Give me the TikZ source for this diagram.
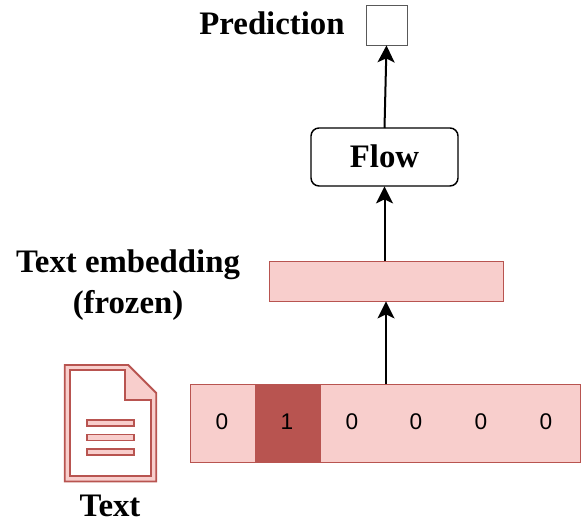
\documentclass[tikz,border=0pt]{standalone}
\usepackage{fontspec}
\setmainfont{Liberation Serif}
\newfontfamily\digitfont{Liberation Sans}
\usetikzlibrary{arrows.meta}
\definecolor{pinkfill}{HTML}{F8CECC}
\definecolor{redline}{HTML}{B85450}
\tikzset{
  x=0.75pt,y=-0.75pt,
  lbl/.style={font=\fontsize{24.6}{28}\selectfont\bfseries,inner sep=0pt,text=black},
  pinkbox/.style={draw=redline,fill=pinkfill,line width=0.6pt,inner sep=0pt,outer sep=0pt},
  digit/.style={font=\digitfont\fontsize{17}{19}\selectfont,inner sep=0pt,text=black},
  arrowline/.style={draw=black,line width=1.5pt,-{Stealth[length=12.75pt,width=12.75pt,inset=3pt]},shorten >=0.3pt},
  iconline/.style={draw=redline,line width=1.4pt,fill=pinkfill,line join=miter},
}
\begin{document}
\begin{tikzpicture}
\useasboundingbox (0,0) rectangle (586,523);
% boxes
\node[draw=black!65,fill=white,line width=0.6pt,minimum width=30.6pt,minimum height=30pt,inner sep=0pt,outer sep=0pt] (pred) at (386.5,25) {};
\node[draw=black,fill=white,rounded corners=6pt,line width=1.1pt,minimum width=110.25pt,minimum height=43.5pt,inner sep=0pt,outer sep=0pt,lbl] (flow) at (384.5,157) {\raisebox{1pt}{Flow}};
\node[pinkbox,minimum width=175.5pt,minimum height=30pt] (emb) at (386,281) {};
\node[pinkbox,minimum width=292.5pt,minimum height=58.5pt] (vec) at (385.25,423) {};
\node[fill=redline,inner sep=0pt,outer sep=0pt,minimum width=49.5pt,minimum height=58pt] (hot) at (288,423) {};
% digits
\node[digit] (d0) at (222,422) {0};
\node[digit] (d1) at (287,422) {1};
\node[digit] (d2) at (352,422) {0};
\node[digit] (d3) at (416,422) {0};
\node[digit] (d4) at (481,422) {0};
\node[digit] (d5) at (546,422) {0};
% labels
\node[lbl] (lp) at (272,23.5) {Prediction};
\node[lbl] (le) at (128,265) {Text embedding};
\node[lbl] (lf) at (128,305) {(frozen)};
\node[lbl] (lt) at (110,505.5) {Text};
% icon
\draw[iconline] (64.7,365) -- (128.3,365) -- (156.3,393) -- (156.3,481.5) -- (64.7,481.5) -- cycle;
\draw[iconline,fill=white] (70.2,370.3) -- (125,370.3) -- (125,400) -- (151,400) -- (151,476) -- (70.2,476) -- cycle;
\foreach \yy in {423,437.5,452}{
  \draw[draw=redline,line width=0.9pt,fill=pinkfill] (87,\yy-3) rectangle (134,\yy+3);
}
% connectors
\draw[arrowline] (emb.south |- vec.north) -- (emb.south);
\draw[arrowline] (flow.south |- emb.north) -- (flow.south);
\draw[arrowline] (flow.north) -- (pred.south);
\end{tikzpicture}
\end{document}
